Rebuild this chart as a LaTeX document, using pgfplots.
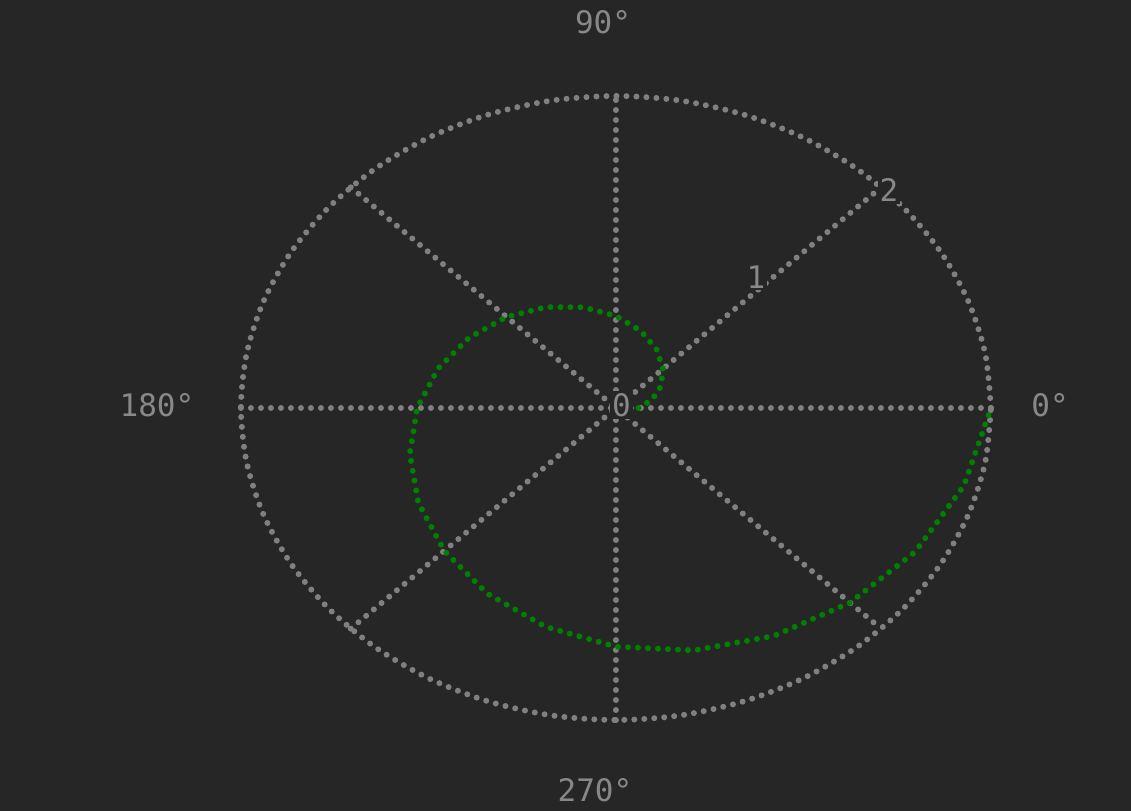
\documentclass[border=0pt]{standalone}
\usepackage{pgfplots}
\pgfplotsset{compat=1.18}
\usepackage{fontspec}
\setmainfont{DejaVu Sans Mono}
\definecolor{bg}{RGB}{38,38,38}
\definecolor{gridc}{RGB}{128,128,128}
\definecolor{txt}{RGB}{136,136,136}
\definecolor{curve}{RGB}{0,128,0}
\begin{document}
\begin{tikzpicture}
\begin{axis}[
  scale only axis, width=565.5pt, height=405.5pt,
  xmin=-3.285, xmax=2.747, ymin=-2.583, ymax=2.615,
  hide axis, clip=false,
  every axis plot/.append style={line cap=round, dash pattern=on 0pt off 5pt, line width=3pt},
]
\fill[bg] (rel axis cs:0,0) rectangle (rel axis cs:1,1);
% outer circle
\addplot[gridc, smooth] coordinates {
(2,0) (1.9696,0.3473) (1.8794,0.6840) (1.7321,1) (1.5321,1.2856) (1.2856,1.5321) (1,1.7321) (0.6840,1.8794) (0.3473,1.9696)
(0,2) (-0.3473,1.9696) (-0.6840,1.8794) (-1,1.7321) (-1.2856,1.5321) (-1.5321,1.2856) (-1.7321,1) (-1.8794,0.6840) (-1.9696,0.3473)
(-2,0) (-1.9696,-0.3473) (-1.8794,-0.6840) (-1.7321,-1) (-1.5321,-1.2856) (-1.2856,-1.5321) (-1,-1.7321) (-0.6840,-1.8794) (-0.3473,-1.9696)
(0,-2) (0.3473,-1.9696) (0.6840,-1.8794) (1,-1.7321) (1.2856,-1.5321) (1.5321,-1.2856) (1.7321,-1) (1.8794,-0.6840) (1.9696,-0.3473) (2,0)
};
% spokes
\addplot[gridc] coordinates {(-2,0) (2,0)};
\addplot[gridc] coordinates {(0,-2) (0,2)};
\addplot[gridc] coordinates {(-1.4142,-1.4142) (1.4142,1.4142)};
\addplot[gridc] coordinates {(-1.4142,1.4142) (1.4142,-1.4142)};
% spiral
\addplot[curve] coordinates {
(0.12,0) (0.1915,0.0513) (0.2396,0.1383) (0.2510,0.2510) (0.2167,0.3753) (0.1324,0.4942)
(0,0.59) (-0.1730,0.6455) (-0.3733,0.6466) (-0.5834,0.5834) (-0.7823,0.4517) (-0.9482,0.2541)
(-1.06,0) (-1.0995,-0.2946) (-1.0537,-0.6083) (-0.9157,-0.9157) (-0.6867,-1.1893) (-0.3757,-1.4022)
(0,-1.53) (0.4163,-1.5535) (0.8433,-1.4607) (1.2480,-1.2480) (1.5963,-0.9217) (1.8562,-0.4974) (2,0)
};
\begin{scope}[every node/.style={text=txt, font=\fontsize{15.5}{18}\selectfont, inner sep=1pt, fill=bg}]
\node at (axis cs:2.315,0.02) {0°};
\node at (axis cs:-0.069,2.474) {90°};
\node at (axis cs:-2.448,0.02) {180°};
\node at (axis cs:-0.112,-2.449) {270°};
\node at (axis cs:0.03,0.02) {0};
\node at (axis cs:0.747,0.84) {1};
\node at (axis cs:1.456,1.397) {2};
\end{scope}
\end{axis}
\end{tikzpicture}
\end{document}
